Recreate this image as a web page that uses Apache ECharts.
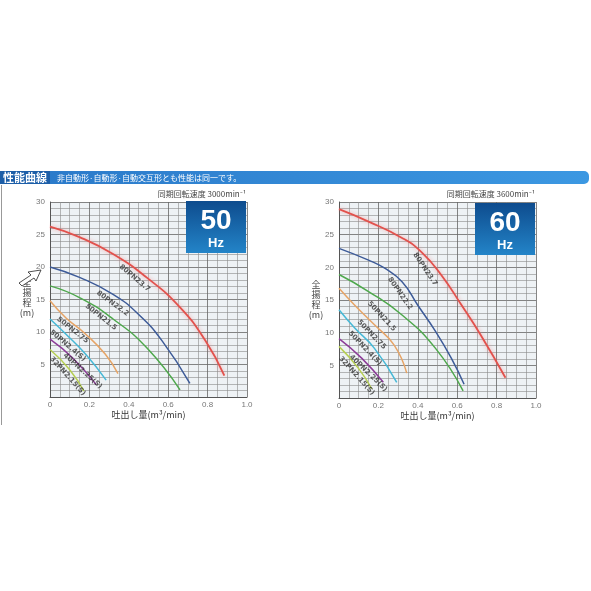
<!DOCTYPE html>
<html>
<head>
<meta charset="utf-8">
<script src="https://cdn.jsdelivr.net/npm/echarts@6/dist/echarts.min.js"></script>
<style>
html,body{margin:0;padding:0;background:#fff;}
#main{width:591px;height:591px;}
</style>
</head>
<body>
<div id="main"></div>
<script>
// curve names, shared by both charts
var names = ['80PN23.7', '80PN22.2', '50PN21.5', '50PN2.75', '50PN2.4(S)', '40PN2.25(S)', '32PN2.15(S)'];
var colors = ['#e2514c', '#3d5b98', '#4ea84c', '#e6a466', '#46b8d6', '#8c3c98', '#b6cf52'];

// 50Hz curves: [flow m3/min, head m]
var c50_237 = [[0, 26.2], [0.15, 24.6], [0.32, 22.0], [0.49, 18.4], [0.66, 13.8], [0.79, 8.6], [0.885, 3.3]];
var c50_222 = [[0, 20.0], [0.15, 18.4], [0.32, 15.8], [0.45, 12.7], [0.57, 8.6], [0.71, 2.1]];
var c50_215 = [[0, 17.1], [0.15, 15.3], [0.32, 12.0], [0.49, 7.6], [0.66, 1.1]];
var c50_275 = [[0, 14.8], [0.08, 12.2], [0.18, 9.7], [0.28, 6.6], [0.345, 3.6]];
var c50_24 = [[0, 12.0], [0.08, 9.7], [0.18, 6.6], [0.285, 2.6]];
var c50_225 = [[0, 8.9], [0.115, 6.0], [0.235, 1.9]];
var c50_215s = [[0, 7.3], [0.1, 4.2], [0.172, 0.9]];

// 60Hz curves
var c60_237 = [[0, 28.9], [0.15, 27.0], [0.32, 24.5], [0.42, 22.3], [0.52, 18.8], [0.62, 14.3], [0.72, 9.6], [0.845, 3.1]];
var c60_222 = [[0, 22.9], [0.15, 21.1], [0.23, 19.9], [0.32, 17.8], [0.4, 14.2], [0.49, 10.2], [0.57, 6.1], [0.635, 2.1]];
var c60_215 = [[0, 18.9], [0.15, 16.3], [0.32, 12.7], [0.49, 7.6], [0.63, 1.1]];
var c60_275 = [[0, 16.8], [0.08, 14.2], [0.18, 11.2], [0.28, 8.1], [0.344, 3.8]];
var c60_24 = [[0, 13.5], [0.08, 10.7], [0.18, 7.6], [0.293, 2.4]];
var c60_225 = [[0, 9.1], [0.115, 6.1], [0.225, 2.4]];
var c60_215s = [[0, 7.9], [0.1, 4.5], [0.166, 1.4]];

// label anchor points [flow, head] and rotation (deg)
var lab50 = [[0.43, 18.3, -40], [0.318, 14.4, -36], [0.259, 12.3, -38], [0.115, 10.3, -38], [0.09, 7.9, -40], [0.166, 4.0, -42], [0.09, 3.2, -48]];
var lab60 = [[0.437, 19.7, -56], [0.31, 16.0, -55], [0.217, 12.5, -47], [0.166, 9.7, -46], [0.132, 7.6, -46], [0.149, 3.8, -44], [0.09, 3.4, -48]];

var xTicks = ['0', '0.2', '0.4', '0.6', '0.8', '1.0'];
var yNameChars = ['全', '揚', '程', '(m)'];

var curves50 = [c50_237, c50_222, c50_215, c50_275, c50_24, c50_225, c50_215s];
var curves60 = [c60_237, c60_222, c60_215, c60_275, c60_24, c60_225, c60_215s];

var chart = echarts.init(document.getElementById('main'));

function xAxis(gi) {
    return {
        gridIndex: gi, type: 'value', min: 0, max: 1, interval: 0.2,
        name: '吐出し量(m³/min)', nameLocation: 'middle', nameGap: 13,
        nameTextStyle: {fontSize: 9, color: '#333', fontFamily: 'Noto Sans CJK JP'},
        axisLine: {show: true, lineStyle: {color: '#555', width: 1}},
        axisTick: {show: false},
        axisLabel: {fontSize: 8, color: '#777', margin: 4, formatter: function (v) { return xTicks[Math.round(v * 5)]; }},
        splitLine: {show: true, lineStyle: {color: '#666', width: 0.8}},
        minorTick: {show: false, splitNumber: 4},
        minorSplitLine: {show: true, lineStyle: {color: '#8a8a8a', width: 0.6}}
    };
}
function yAxis(gi) {
    return {
        gridIndex: gi, type: 'value', min: 0, max: 30, interval: 5,
        axisLine: {show: true, lineStyle: {color: '#555', width: 1}},
        axisTick: {show: false},
        axisLabel: {fontSize: 8, color: '#777', margin: 5, formatter: function (v) { return v === 0 ? '' : v; }},
        splitLine: {show: true, lineStyle: {color: '#666', width: 0.8}},
        minorTick: {show: false, splitNumber: 5},
        minorSplitLine: {show: true, lineStyle: {color: '#8a8a8a', width: 0.6}}
    };
}

var series = [];
function addCurves(curves, labs, gi) {
    curves.forEach(function (d, i) {
        series.push({
            type: 'line', xAxisIndex: gi, yAxisIndex: gi, data: d,
            smooth: 0.5,
            symbol: 'none', silent: true, z: 5,
            lineStyle: {color: colors[i], width: i === 0 ? 1.8 : 1.5,
                shadowColor: i === 0 ? 'rgba(240,130,130,0.7)' : 'rgba(0,0,0,0)', shadowBlur: i === 0 ? 4 : 0}
        });
    });
    series.push({
        type: 'scatter', xAxisIndex: gi, yAxisIndex: gi, symbolSize: 0, silent: true, z: 6,
        data: labs.map(function (p, i) {
            return {value: [p[0], p[1]], name: names[i],
                label: {show: true, rotate: p[2], formatter: '{b}', position: 'inside',
                    fontSize: 7, fontWeight: 'bold', color: '#333', fontFamily: 'DejaVu Sans'}};
        })
    });
}
addCurves(curves50, lab50, 0);
addCurves(curves60, lab60, 1);

function hzBox(x, y, big) {
    return [
        {type: 'rect', shape: {x: x, y: y, width: 60, height: 52}, z: 10,
            style: {fill: new echarts.graphic.LinearGradient(0, 0, 0, 1, [
                {offset: 0, color: '#0e4c8e'}, {offset: 1, color: '#2384c8'}])}},
        {type: 'text', x: x + 30, y: y + 20, z: 11,
            style: {text: big, fill: '#fff', font: 'bold 28px "Liberation Sans", Arial', textAlign: 'center', textVerticalAlign: 'middle'}},
        {type: 'text', x: x + 30, y: y + 42, z: 11,
            style: {text: 'Hz', fill: '#fff', font: 'bold 13px "Liberation Sans", Arial', textAlign: 'center', textVerticalAlign: 'middle'}}
    ];
}
function yName(x, y) {
    return yNameChars.map(function (c, i) {
        return {type: 'text', x: x, y: y + i * 10,
            style: {text: c, fill: '#444', font: '9px "Noto Sans CJK JP"', textAlign: 'center', textVerticalAlign: 'middle'}};
    });
}

var graphics = [
    {type: 'rect', shape: {x: 0, y: 171, width: 589, height: 13, r: [0, 5, 5, 0]},
        style: {fill: new echarts.graphic.LinearGradient(0, 0, 1, 0, [
            {offset: 0, color: '#2a78c8'}, {offset: 1, color: '#3c98e2'}])}},
    {type: 'rect', shape: {x: 0, y: 171, width: 50, height: 13}, style: {fill: '#1c5ea8'}},
    {type: 'text', x: 3, y: 177.5, style: {text: '性能曲線', fill: '#fff', font: 'bold 11px "Noto Sans CJK JP"', textVerticalAlign: 'middle'}},
    {type: 'text', x: 57, y: 177.5, style: {text: '非自動形·自動形·自動交互形とも性能は同一です。', fill: '#fff', font: '8px "Noto Sans CJK JP"', textVerticalAlign: 'middle'}},
    {type: 'line', shape: {x1: 1.5, y1: 185, x2: 1.5, y2: 425}, style: {stroke: '#999', lineWidth: 1}},
    {type: 'text', x: 246, y: 194, style: {text: '同期回転速度 3000min⁻¹', fill: '#444', font: '8px "Noto Sans CJK JP"', textAlign: 'right', textVerticalAlign: 'middle'}},
    {type: 'text', x: 535, y: 194, style: {text: '同期回転速度 3600min⁻¹', fill: '#444', font: '8px "Noto Sans CJK JP"', textAlign: 'right', textVerticalAlign: 'middle'}},
    // mouse pointer caught in the scan
    {type: 'polygon', z: 20, shape: {points: [[41, 270], [28, 272], [31, 275], [19, 283], [22, 286], [34, 278], [36, 281]]},
        style: {fill: '#fff', stroke: '#222', lineWidth: 0.8}}
].concat(yName(27, 283), yName(316, 285), hzBox(186, 201, '50'), hzBox(475, 203, '60'));

chart.setOption({
    animation: false,
    backgroundColor: '#fff',
    grid: [
        {left: 50, top: 202, width: 197, height: 195, show: true, backgroundColor: '#eef2f5', borderWidth: 0},
        {left: 339, top: 202, width: 197, height: 196, show: true, backgroundColor: '#eef2f5', borderWidth: 0}
    ],
    xAxis: [xAxis(0), xAxis(1)],
    yAxis: [yAxis(0), yAxis(1)],
    series: series,
    graphic: graphics
});
</script>
</body>
</html>
